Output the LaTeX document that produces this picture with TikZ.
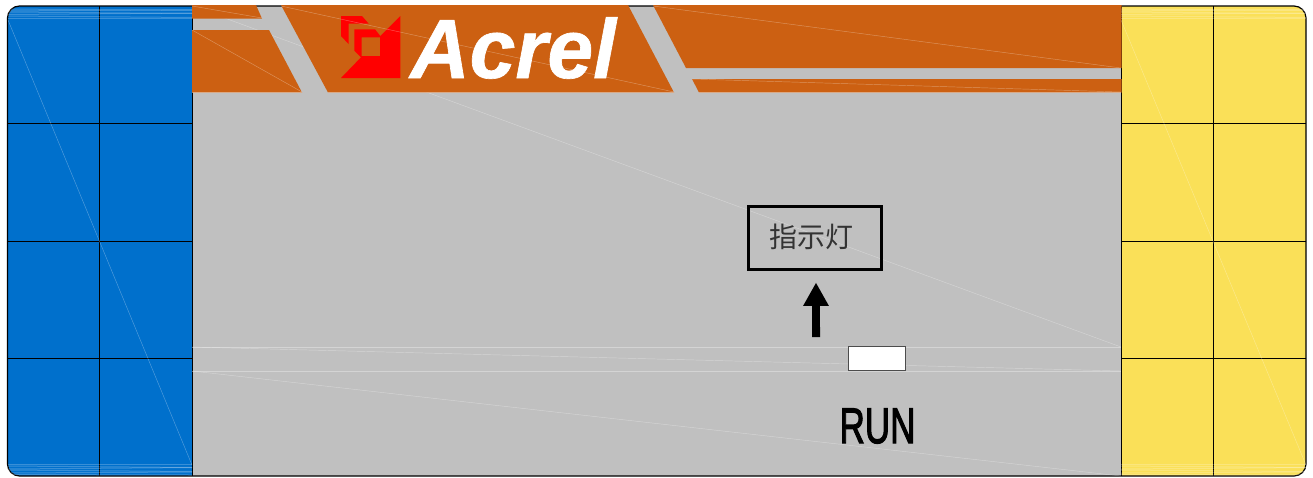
\documentclass[tikz,border=0pt]{standalone}
\usepackage{fontspec}
\setmainfont{Liberation Sans}
\newfontfamily\cjkfont{Noto Sans CJK SC}
\newfontfamily\runfont[FakeBold=2.6]{Liberation Sans}
\newfontfamily\brandfont[ItalicFeatures={FakeBold=.8},BoldItalicFeatures={FakeBold=.8}]{Liberation Sans}
\usetikzlibrary{arrows.meta}
\definecolor{panelblue}{RGB}{0,112,204}
\definecolor{panelyellow}{RGB}{250,224,88}
\definecolor{bandorange}{RGB}{204,96,18}
\definecolor{panelgray}{RGB}{192,192,192}
\tikzset{
  x=1pt,y=-1pt,
  grid/.style={line width=1pt,draw=black},
  hair/.style={line width=.45pt,draw=white,draw opacity=.32},
  stripe/.style={line width=1pt,draw=white,draw opacity=.22},
  band/.style={fill=bandorange},
  redlogo/.style={fill=red,even odd rule},
}
\begin{document}
\begin{tikzpicture}
\useasboundingbox (0,0) rectangle (1313,477);
% body
\fill[panelgray,rounded corners=12pt] (7.5,6) rectangle (1306,476);
\begin{scope}
  \clip[rounded corners=12pt] (7.5,6) rectangle (1306,476);
  \fill[panelblue] (7.5,6) rectangle (192,476);
  \fill[panelyellow] (1121,6) rectangle (1306,476);
\end{scope}
% grid
\foreach \y in {123.6,241.2,358.7}{
  \draw[grid] (7.5,\y) -- (192,\y);
  \draw[grid] (1121,\y) -- (1306,\y);
}
\draw[grid] (99.7,6) -- (99.7,476);
\draw[grid] (1213.5,6) -- (1213.5,476);
\draw[grid] (192,6) -- (192,476);
\draw[grid] (1121,6) -- (1121,476);
\draw[line width=1.2pt,rounded corners=12pt] (7.5,6) rectangle (1306,476);
% long hairline runs beneath the band
\draw[hair] (192,6) -- (1121,347);
% orange band
\fill[band] (192,5) -- (256,5) -- (262,18.7) -- (192,18.7) -- cycle;
\fill[band] (192,30) -- (269,30) -- (302,92.5) -- (192,92.5) -- cycle;
\fill[band] (281,5) -- (628,5) -- (674,92.5) -- (328,92.5) -- cycle;
\fill[band] (653,5) -- (1121.5,5) -- (1121.5,68) -- (686,68) -- cycle;
\fill[band] (692,79) -- (1121.5,79) -- (1121.5,92.5) -- (699,92.5) -- cycle;
% logo
\fill[redlogo] (341,16) -- (362,16) -- (368.5,23.5) -- (348.5,23.5) -- (348.5,44) -- (341,36) -- cycle;
\fill[redlogo] (354.3,29.3) -- (375,29.3) -- (380.3,36) -- (400.3,16) -- (400.3,78) -- (341,78) -- (361,57.3) -- (354.3,50.7) -- cycle
  (361.7,37.3) rectangle (380,56);
\node[anchor=base west,inner sep=0pt,xscale=.98,text=white,font=\brandfont\fontsize{84}{84}\selectfont\bfseries\itshape] (brand) at (410,78) {Acrel};
% hairlines
\draw[hair] (8,20) -- (192,465);
\draw[hair] (1121,20) -- (1306,465);
\draw[hair] (192,6) -- (262,18);
\draw[hair] (192,30) -- (302,92);
\draw[hair] (281,6) -- (674,92);
\draw[hair] (653,6) -- (1121,68);
\draw[hair] (692,79) -- (1121,92);
\draw[hair] (192,92.3) -- (302,92.3);
\draw[hair] (328,92.3) -- (674,92.3);
\draw[hair] (699,92.3) -- (1121,92.3);
\draw[hair] (192,347) -- (1121,347);
\draw[hair] (192,371) -- (1121,371);
\draw[hair] (192,347) -- (1121,371);
\draw[hair] (192,371) -- (1121,476);
% stripes
\foreach \xa/\xb in {8/192,1121/1306}{
  \foreach \ya/\yb in {9/10.5,11/9.5,12/13.5,14.5/13,16/17.5,18/18}{
    \draw[stripe] (\xa,\ya) -- (\xb,\yb);
  }
  \foreach \ya/\yb in {464.5/464.5,466/467.5,469/467.5,470/471.5,473/472,474.5/475}{
    \draw[stripe] (\xa,\ya) -- (\xb,\yb);
  }
}
% indicator
\node[draw=black,line width=2.5pt,minimum width=133pt,minimum height=63pt,inner sep=0pt] (label) at (815,238) {};
\node[inner sep=0pt,text=black!80,font=\cjkfont\fontsize{28}{28}\selectfont] (labeltext) at (811,237) {指示灯};
\node[draw=black!70,fill=white,line width=1pt,minimum width=57pt,minimum height=24.5pt,inner sep=0pt] (lamp) at (877,358.7) {};
\coordinate (arrowfoot) at (816,337);
\coordinate (arrowtip) at (816,282.5);
\draw[line width=8pt,{Butt Cap[]}-{Triangle[length=23.4pt,width=24pt]}] (arrowfoot) -- (arrowtip);
\node[anchor=base,inner sep=0pt,xscale=.7,font=\runfont\fontsize{50}{50}\selectfont] (run) at (877.5,443) {RUN};
\end{tikzpicture}
\end{document}
